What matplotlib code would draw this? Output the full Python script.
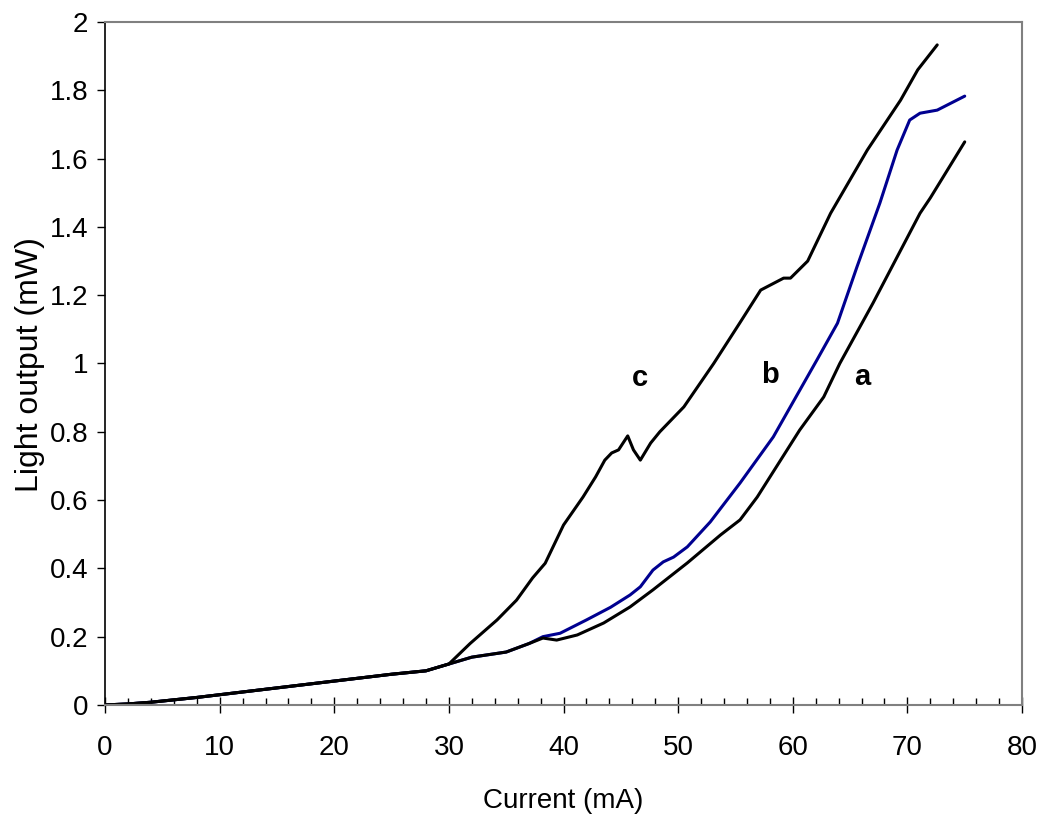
import numpy as np
import matplotlib
matplotlib.use("Agg")
import matplotlib.pyplot as plt
from matplotlib.ticker import MultipleLocator, FuncFormatter

plt.rcParams['font.family'] = ['Liberation Sans', 'DejaVu Sans']

# shared low-current part (all three curves overlap here)
x_low = [0, 2, 4, 6, 8, 10, 15, 20, 25, 28, 30]
y_low = [0, 0.003, 0.008, 0.015, 0.022, 0.03, 0.05, 0.07, 0.09, 0.1, 0.12]

# curve a
xa = x_low + [32, 35, 37, 38.2, 39.4, 41.2, 43.5, 45.8, 47.8, 50.8, 53.7, 55.4,
              56.9, 60.6, 62.7, 64.1, 67.0, 71.1, 72.0, 75.0]
ya = y_low + [0.14, 0.155, 0.18, 0.196, 0.19, 0.205, 0.24, 0.287, 0.337, 0.416, 0.498, 0.542,
              0.609, 0.805, 0.902, 1.0, 1.177, 1.44, 1.485, 1.649]

# curve b (blue)
xb = x_low + [32, 35, 37, 38.2, 39.7, 42.0, 44.1, 45.8, 46.7, 47.8, 48.7, 49.6, 50.8,
              52.8, 55.4, 58.3, 62.1, 63.9, 65.6, 67.6, 69.1, 70.2, 71.1, 72.6, 75.0]
yb = y_low + [0.14, 0.155, 0.18, 0.2, 0.21, 0.249, 0.286, 0.322, 0.346, 0.395, 0.419, 0.433, 0.463,
              0.536, 0.65, 0.785, 1.01, 1.118, 1.283, 1.47, 1.625, 1.713, 1.733, 1.742, 1.783]

# curve c
xc = x_low + [31.85, 34.2, 35.9, 37.3, 38.4, 40.0, 41.7, 42.8, 43.6, 44.2, 44.8, 45.6,
              46.1, 46.7, 47.6, 48.4, 50.5, 53.1, 55.4, 57.2, 59.2, 59.8, 61.3, 63.3,
              66.5, 69.4, 70.9, 72.6]
yc = y_low + [0.18, 0.249, 0.307, 0.372, 0.415, 0.527, 0.609, 0.668, 0.717, 0.738, 0.747, 0.788,
              0.747, 0.717, 0.767, 0.80, 0.873, 1.0, 1.12, 1.215, 1.25, 1.25, 1.30, 1.44,
              1.625, 1.771, 1.86, 1.933]

labels = ['c', 'b', 'a']
label_x = [46.7, 58.0, 66.1]
label_y = [0.957, 0.966, 0.96]

fig = plt.figure(figsize=(10.43, 8.25), dpi=100)
ax = fig.add_axes([0.1007, 0.1455, 0.8792, 0.8278])

ax.plot(xb, yb, color='#000090', lw=2.2, solid_capstyle='round', solid_joinstyle='round')
ax.plot(xa, ya, color='black', lw=2.2, solid_capstyle='round', solid_joinstyle='round')
ax.plot(xc, yc, color='black', lw=2.2, solid_capstyle='round', solid_joinstyle='round')

for t, lx, ly in zip(labels, label_x, label_y):
    ax.text(lx, ly, t, fontsize=21, fontweight='bold', ha='center', va='center')

ax.set_xlim(0, 80)
ax.set_ylim(0, 2)
ax.xaxis.set_major_locator(MultipleLocator(10))
ax.xaxis.set_minor_locator(MultipleLocator(2))
ax.yaxis.set_major_locator(MultipleLocator(0.2))
ax.yaxis.set_major_formatter(FuncFormatter(lambda v, p: f'{v:g}'))

ax.tick_params(axis='x', which='major', direction='inout', length=11, width=1, labelsize=20, pad=16)
ax.tick_params(axis='x', which='minor', direction='in', length=5, width=1)
ax.tick_params(axis='y', which='major', direction='out', length=6, width=1, labelsize=20, pad=6)

for s in ['top', 'right', 'bottom']:
    ax.spines[s].set_color('#808080')
    ax.spines[s].set_linewidth(1.5)
ax.spines['left'].set_color('black')
ax.spines['left'].set_linewidth(1.2)

ax.set_xlabel('Current (mA)', fontsize=20)
ax.set_ylabel('Light output (mW)', fontsize=23)
ax.xaxis.set_label_coords(0.5, -0.122)
ax.yaxis.set_label_coords(-0.065, 0.499)

fig.savefig('out.png', dpi=100)
